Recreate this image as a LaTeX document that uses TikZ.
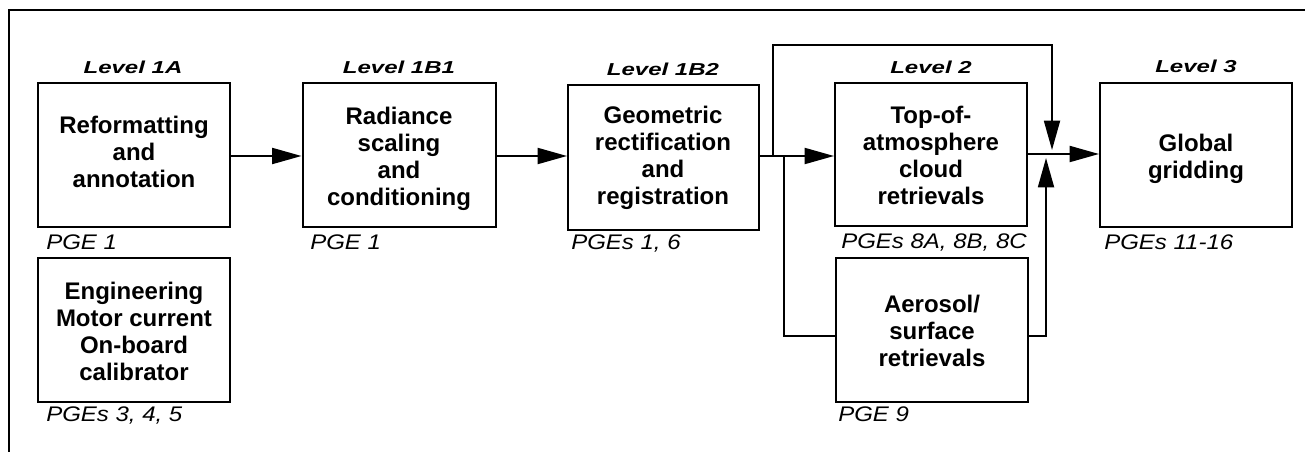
\documentclass[tikz,border=0pt]{standalone}
\usepackage{fontspec}
\usepackage{graphicx}
\setmainfont{Liberation Sans}
\usetikzlibrary{arrows.meta}
\newcommand{\vsq}[2]{\scalebox{1}[#1]{#2}}
\tikzset{
  box/.style={draw, line width=1.5pt, inner sep=0pt},
  btext/.style={font=\fontsize{18pt}{20.25pt}\selectfont\bfseries, align=center, inner sep=0pt},
  lvl/.style={font=\fontsize{18pt}{20.25pt}\selectfont\bfseries\itshape, inner sep=0pt},
  pge/.style={font=\fontsize{18pt}{20.25pt}\selectfont\itshape, inner sep=0pt, anchor=west},
  conn/.style={line width=1.4pt, -{Triangle[length=22pt,width=12pt]}},
  plain/.style={line width=1.4pt},
}
\begin{document}
\begin{tikzpicture}[x=0.75pt,y=-0.75pt]
\useasboundingbox (0,0) rectangle (1305,452);
% frame
\draw[line width=1.5pt] (9,452) -- (9,10) -- (1305,10);
% boxes
\node[box, minimum width=144pt, minimum height=108pt] (A) at (134,155) {};
\node[box, minimum width=144pt, minimum height=108pt] (E) at (134,330) {};
\node[box, minimum width=144.75pt, minimum height=107.5pt] (B1) at (399,155) {};
\node[box, minimum width=143.25pt, minimum height=108.75pt] (B2) at (663.5,157.5) {};
\node[box, minimum width=144pt, minimum height=107.25pt] (L2) at (931,154.5) {};
\node[box, minimum width=144pt, minimum height=108pt] (AE) at (932,330) {};
\node[box, minimum width=144pt, minimum height=108pt] (L3) at (1196,155) {};
% box texts
\node[btext] (tA) at (134,152) {Reformatting\\and\\annotation};
\node[btext] (tE) at (134,331) {Engineering\\Motor current\\On-board\\calibrator};
\node[btext] (tB1) at (399,158.5) {Radiance\\scaling\\and\\conditioning};
\node[btext] (tB2) at (663,158) {Geometric\\rectification\\and\\registration};
\node[btext] (tL2) at (931,155) {Top-of-\\atmosphere\\cloud\\retrievals};
\node[btext] (tAE) at (932,331) {Aerosol/\\surface\\retrievals};
\node[btext] (tL3) at (1196,159) {Global\\gridding};
% level labels
\node[lvl] (lA) at (133,67) {\vsq{0.72}{Level 1A}};
\node[lvl] (lB1) at (399,67) {\vsq{0.72}{Level 1B1}};
\node[lvl] (lB2) at (663,69) {\vsq{0.72}{Level 1B2}};
\node[lvl] (lL2) at (931,67) {\vsq{0.72}{Level 2}};
\node[lvl] (lL3) at (1196,66) {\vsq{0.72}{Level 3}};
% PGE labels
\node[pge] (pA) at (46,242) {\vsq{0.88}{PGE 1}};
\node[pge] (pE) at (46,415) {\vsq{0.88}{PGEs 3, 4, 5}};
\node[pge] (pB1) at (310,242) {\vsq{0.88}{PGE 1}};
\node[pge] (pB2) at (571,243) {\vsq{0.88}{PGEs 1, 6}};
\node[pge] (pL2) at (841,242) {\vsq{0.88}{PGEs 8A, 8B, 8C}};
\node[pge] (pAE) at (838,414) {\vsq{0.88}{PGE 9}};
\node[pge] (pL3) at (1104,242) {\vsq{0.88}{PGEs 11-16}};
% connectors
\draw[conn] (A.east |- 0,156) -- (B1.west |- 0,156);
\draw[conn] (B1.east |- 0,156) -- (B2.west |- 0,156);
\coordinate (j1) at (773,156);
\coordinate (j2) at (784,156);
\coordinate (top) at (1052,150);
\coordinate (bot) at (1046,158);
\draw[conn] (B2.east |- j1) -- (L2.west |- j1);
\draw[conn] (j1) -- (773,45) -- (1052,45) -- (top);
\draw[plain] (j2) -- (784,336) -- (AE.west |- 0,336);
\draw[conn] (AE.east |- 0,336) -- (1046,336) -- (bot);
\draw[conn] (L2.east |- 0,154) -- (L3.west |- 0,154);
\end{tikzpicture}
\end{document}
